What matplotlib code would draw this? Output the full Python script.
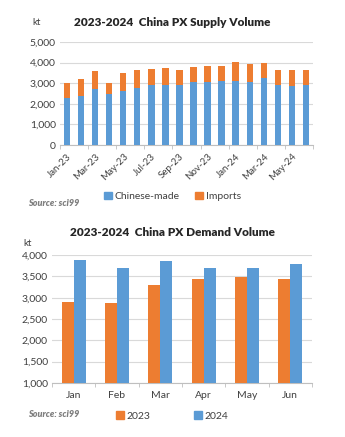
import numpy as np
import matplotlib.pyplot as plt

plt.rcParams['font.family'] = ['Lato', 'DejaVu Sans']

# supply data (kt)
months = ['Jan-23', 'Feb-23', 'Mar-23', 'Apr-23', 'May-23', 'Jun-23', 'Jul-23', 'Aug-23', 'Sep-23',
          'Oct-23', 'Nov-23', 'Dec-23', 'Jan-24', 'Feb-24', 'Mar-24', 'Apr-24', 'May-24', 'Jun-24']
chinese_made = [2280, 2360, 2740, 2480, 2600, 2750, 2920, 2930, 2930,
                3050, 3050, 3130, 3130, 3080, 3260, 2930, 2850, 2900]
total_supply = [3000, 3180, 3570, 3000, 3490, 3620, 3670, 3750, 3620,
                3790, 3840, 3840, 4010, 3920, 3970, 3620, 3620, 3620]
imports = [t - c for t, c in zip(total_supply, chinese_made)]

# demand data (kt)
demand_months = ['Jan', 'Feb', 'Mar', 'Apr', 'May', 'Jun']
demand_2023 = [2910, 2880, 3290, 3430, 3480, 3430]
demand_2024 = [3890, 3710, 3870, 3710, 3710, 3790]

blue = '#5B9BD5'
orange = '#ED7D31'
grid_c = '#D9D9D9'
text_c = '#404040'

fig = plt.figure(figsize=(3.45, 4.37), dpi=100)

# ---- top: supply ----
ax1 = fig.add_axes([0.174, 0.668, 0.733, 0.236])
x = np.arange(len(months))
ax1.bar(x, chinese_made, width=0.45, color=blue, zorder=3)
ax1.bar(x, imports, width=0.45, bottom=chinese_made, color=orange, zorder=3)
ax1.set_ylim(0, 5000)
ax1.set_xlim(-0.5, len(months) - 0.5)
ax1.set_yticks(range(0, 5001, 1000))
ax1.set_yticklabels([f'{v:,}' for v in range(0, 5001, 1000)])
ax1.set_xticks(x[::2])
ax1.set_xticklabels(months[::2], rotation=45, ha='right', rotation_mode='anchor')
ax1.set_xticks(np.arange(-0.5, len(months), 2), minor=True)
ax1.tick_params(axis='x', which='major', length=0, pad=5, labelsize=7, colors=text_c)
ax1.tick_params(axis='x', which='minor', length=3, color='#BFBFBF')
ax1.tick_params(axis='y', length=0, labelsize=7.5, colors=text_c, pad=3)
ax1.grid(axis='y', color=grid_c, linewidth=0.8, zorder=0)
for s in ['top', 'right', 'left']:
    ax1.spines[s].set_visible(False)
ax1.spines['bottom'].set_color('#BFBFBF')
fig.text(0.5, 0.949, '2023-2024  China PX Supply Volume', ha='center', va='center',
         fontsize=8.5, fontweight='heavy', color='#262626')
fig.text(0.105, 0.949, 'kt', ha='center', va='center', fontsize=7, color=text_c)
fig.text(0.08, 0.535, 'Source: sci99', ha='left', va='center', fontsize=6.5,
         fontweight='heavy', style='italic', color='#7F7F7F')
h1 = plt.Rectangle((0, 0), 1, 1, color=blue)
h2 = plt.Rectangle((0, 0), 1, 1, color=orange)
fig.legend([h1, h2], ['Chinese-made', 'Imports'], loc='center', bbox_to_anchor=(0.5, 0.551),
           ncol=2, frameon=False, fontsize=7.5, handlelength=0.7, handleheight=0.7,
           handletextpad=0.3, columnspacing=1.5, labelcolor=text_c)

# ---- bottom: demand ----
ax2 = fig.add_axes([0.151, 0.124, 0.753, 0.292])
xd = np.arange(len(demand_months))
w = 0.28
ax2.bar(xd - w / 2, demand_2023, width=w, color=orange, zorder=3)
ax2.bar(xd + w / 2, demand_2024, width=w, color=blue, zorder=3)
ax2.set_ylim(1000, 4000)
ax2.set_xlim(-0.5, len(demand_months) - 0.5)
ax2.set_yticks(range(1000, 4001, 500))
ax2.set_yticklabels([f'{v:,}' for v in range(1000, 4001, 500)])
ax2.set_xticks(xd)
ax2.set_xticklabels(demand_months)
ax2.set_xticks(np.arange(-0.5, len(demand_months), 1), minor=True)
ax2.tick_params(axis='x', which='major', length=0, pad=6, labelsize=7.5, colors=text_c)
ax2.tick_params(axis='x', which='minor', length=3, color='#BFBFBF')
ax2.tick_params(axis='y', length=0, labelsize=7.5, colors=text_c, pad=3)
ax2.grid(axis='y', color=grid_c, linewidth=0.8, zorder=0)
for s in ['top', 'right', 'left']:
    ax2.spines[s].set_visible(False)
ax2.spines['bottom'].set_color('#BFBFBF')
fig.text(0.5, 0.469, '2023-2024  China PX Demand Volume', ha='center', va='center',
         fontsize=8.5, fontweight='heavy', color='#262626')
fig.text(0.081, 0.443, 'kt', ha='center', va='center', fontsize=7, color=text_c)
fig.text(0.08, 0.052, 'Source: sci99', ha='left', va='center', fontsize=6.5,
         fontweight='heavy', style='italic', color='#7F7F7F')
h3 = plt.Rectangle((0, 0), 1, 1, color=orange)
h4 = plt.Rectangle((0, 0), 1, 1, color=blue)
fig.legend([h3, h4], ['2023', '2024'], loc='center', bbox_to_anchor=(0.5, 0.048),
           ncol=2, frameon=False, fontsize=7.5, handlelength=0.7, handleheight=0.7,
           handletextpad=0.3, columnspacing=4.2, labelcolor=text_c)

fig.savefig('out.png', dpi=100)
